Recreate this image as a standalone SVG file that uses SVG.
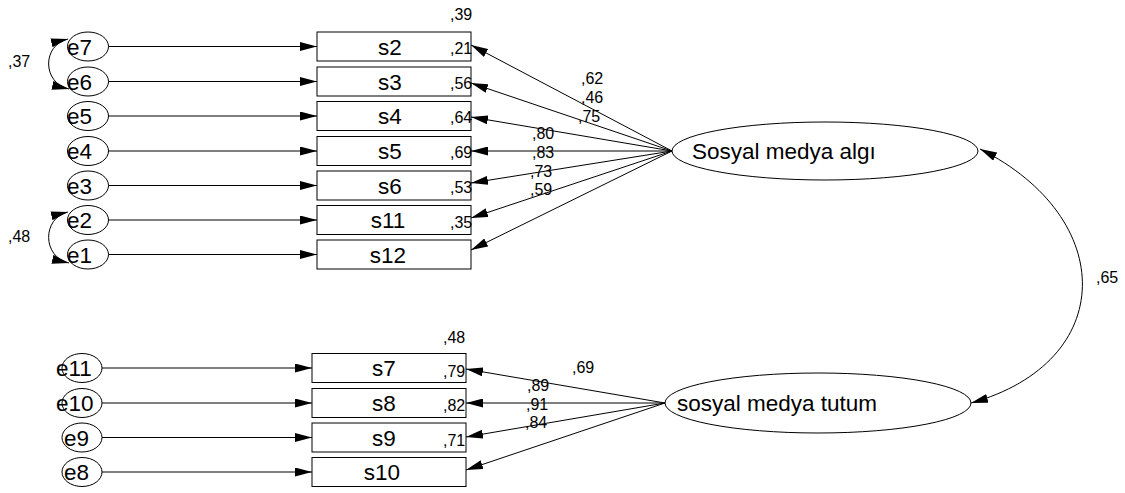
<svg xmlns="http://www.w3.org/2000/svg" width="1125" height="493" viewBox="0 0 1125 493">
  <style>
    .box { fill: #fff; stroke: #000; stroke-width: 1; }
    .ell { fill: #fff; stroke: #000; stroke-width: 1; }
    .lbl { font-family: "Liberation Sans", Arial, sans-serif; font-size: 22.5px; fill: #000; }
    .num { font-family: "Liberation Sans", Arial, sans-serif; font-size: 16px; fill: #000; }
    .edge { fill: none; stroke: #000; stroke-width: 1; marker-end: url(#arrow); }
    .cov { fill: none; stroke: #000; stroke-width: 1; marker-start: url(#arrow); marker-end: url(#arrow); }
  </style>
  <defs>
    <marker id="arrow" viewBox="0 0 17 9" refX="17" refY="4.5" markerWidth="17" markerHeight="9" markerUnits="userSpaceOnUse" orient="auto-start-reverse">
      <path d="M0,0 L17,4.5 L0,9 z" fill="#000"/>
    </marker>
  </defs>
  <rect width="1125" height="493" fill="#fff"/>

  <!-- connectors -->
  <g id="connectors">
    <!-- error terms to indicators (upper block) -->
    <line class="edge" x1="108" y1="46.5" x2="317" y2="46.5"/>
    <line class="edge" x1="108" y1="81.5" x2="317" y2="81.5"/>
    <line class="edge" x1="108" y1="116" x2="317" y2="116"/>
    <line class="edge" x1="108" y1="151" x2="317" y2="151"/>
    <line class="edge" x1="108" y1="185.5" x2="317" y2="185.5"/>
    <line class="edge" x1="108" y1="220" x2="317" y2="220"/>
    <line class="edge" x1="108" y1="254.5" x2="317" y2="254.5"/>
    <!-- error terms to indicators (lower block) -->
    <line class="edge" x1="102" y1="368" x2="312" y2="368"/>
    <line class="edge" x1="102" y1="403" x2="312" y2="403"/>
    <line class="edge" x1="102" y1="437.5" x2="312" y2="437.5"/>
    <line class="edge" x1="102" y1="472" x2="312" y2="472"/>
    <!-- loadings: Sosyal medya algı -->
    <line class="edge" x1="672" y1="151" x2="471" y2="45"/>
    <line class="edge" x1="672" y1="151" x2="471" y2="83"/>
    <line class="edge" x1="672" y1="151" x2="471" y2="117"/>
    <line class="edge" x1="672" y1="151" x2="471" y2="151"/>
    <line class="edge" x1="672" y1="151" x2="471" y2="183"/>
    <line class="edge" x1="672" y1="151" x2="471" y2="218"/>
    <line class="edge" x1="672" y1="151" x2="471" y2="250"/>
    <!-- loadings: sosyal medya tutum -->
    <line class="edge" x1="665" y1="403" x2="466" y2="369"/>
    <line class="edge" x1="665" y1="403" x2="466" y2="403"/>
    <line class="edge" x1="665" y1="403" x2="466" y2="437"/>
    <line class="edge" x1="665" y1="403" x2="466" y2="470"/>
    <!-- error covariances -->
    <path class="cov" d="M68 39 C42 45, 42 83, 69 89"/>
    <path class="cov" d="M68 212 C42 218, 42 257, 69 263"/>
    <!-- latent covariance -->
    <path class="cov" d="M980 149 C1118 218, 1118 362, 971 403"/>
  </g>

  <!-- error terms -->
  <g id="e7"><ellipse class="ell" cx="88" cy="46.5" rx="20.5" ry="14.5"/><text class="lbl" x="67" y="54.5">e7</text></g>
  <g id="e6"><ellipse class="ell" cx="88" cy="81.5" rx="20.5" ry="14.5"/><text class="lbl" x="67" y="89.5">e6</text></g>
  <g id="e5"><ellipse class="ell" cx="88" cy="116" rx="20.5" ry="14.5"/><text class="lbl" x="67" y="124">e5</text></g>
  <g id="e4"><ellipse class="ell" cx="88" cy="151" rx="20.5" ry="14.5"/><text class="lbl" x="67" y="159">e4</text></g>
  <g id="e3"><ellipse class="ell" cx="88" cy="185.5" rx="20.5" ry="14.5"/><text class="lbl" x="67" y="193.5">e3</text></g>
  <g id="e2"><ellipse class="ell" cx="88" cy="220" rx="20.5" ry="14.5"/><text class="lbl" x="67" y="228">e2</text></g>
  <g id="e1"><ellipse class="ell" cx="88" cy="254.5" rx="20.5" ry="14.5"/><text class="lbl" x="67" y="262.5">e1</text></g>

  <g id="e11"><ellipse class="ell" cx="82" cy="368" rx="20" ry="14.5"/><text class="lbl" x="56" y="376">e11</text></g>
  <g id="e10"><ellipse class="ell" cx="82" cy="403" rx="20" ry="14.5"/><text class="lbl" x="56" y="411">e10</text></g>
  <g id="e9"><ellipse class="ell" cx="82" cy="437.5" rx="20" ry="14.5"/><text class="lbl" x="64" y="445.5">e9</text></g>
  <g id="e8"><ellipse class="ell" cx="82" cy="472" rx="20" ry="14.5"/><text class="lbl" x="64" y="480">e8</text></g>

  <!-- observed indicators -->
  <g id="s2"><rect class="box" x="317" y="32" width="154" height="29"/><text class="lbl" x="390" y="54.5" text-anchor="middle">s2</text></g>
  <g id="s3"><rect class="box" x="317" y="67" width="154" height="29"/><text class="lbl" x="390" y="89.5" text-anchor="middle">s3</text></g>
  <g id="s4"><rect class="box" x="317" y="101.5" width="154" height="29"/><text class="lbl" x="390" y="124" text-anchor="middle">s4</text></g>
  <g id="s5"><rect class="box" x="317" y="136.5" width="154" height="29"/><text class="lbl" x="390" y="159" text-anchor="middle">s5</text></g>
  <g id="s6"><rect class="box" x="317" y="171" width="154" height="29"/><text class="lbl" x="390" y="193.5" text-anchor="middle">s6</text></g>
  <g id="s11"><rect class="box" x="317" y="205.5" width="154" height="29"/><text class="lbl" x="388" y="228" text-anchor="middle">s11</text></g>
  <g id="s12"><rect class="box" x="317" y="240" width="154" height="29"/><text class="lbl" x="388" y="262.5" text-anchor="middle">s12</text></g>

  <g id="s7"><rect class="box" x="312" y="353.5" width="154" height="29"/><text class="lbl" x="384" y="376" text-anchor="middle">s7</text></g>
  <g id="s8"><rect class="box" x="312" y="388.5" width="154" height="29"/><text class="lbl" x="384" y="411" text-anchor="middle">s8</text></g>
  <g id="s9"><rect class="box" x="312" y="423" width="154" height="29"/><text class="lbl" x="384" y="445.5" text-anchor="middle">s9</text></g>
  <g id="s10"><rect class="box" x="312" y="457.5" width="154" height="29"/><text class="lbl" x="382" y="480" text-anchor="middle">s10</text></g>

  <!-- latent factors -->
  <g id="sosyal-medya-algi"><ellipse class="ell" cx="825" cy="151" rx="153" ry="29"/><text class="lbl" x="692" y="159">Sosyal medya algı</text></g>
  <g id="sosyal-medya-tutum"><ellipse class="ell" cx="818" cy="403" rx="153" ry="30"/><text class="lbl" x="677" y="410.5">sosyal medya tutum</text></g>

  <!-- covariance / loading / R² values, drawn on top of the boxes -->
  <g id="values">
    <text class="num" x="8" y="67">,37</text>
    <text class="num" x="8" y="242">,48</text>
    <text class="num" x="1096" y="283">,65</text>

    <text class="num" x="450" y="20">,39</text>
    <text class="num" x="450" y="54">,21</text>
    <text class="num" x="450" y="89">,56</text>
    <text class="num" x="450" y="123">,64</text>
    <text class="num" x="450" y="158">,69</text>
    <text class="num" x="450" y="193">,53</text>
    <text class="num" x="450" y="228">,35</text>

    <text class="num" x="581" y="84">,62</text>
    <text class="num" x="581" y="103">,46</text>
    <text class="num" x="578" y="122">,75</text>
    <text class="num" x="532" y="139">,80</text>
    <text class="num" x="532" y="158">,83</text>
    <text class="num" x="530" y="177">,73</text>
    <text class="num" x="530" y="195">,59</text>

    <text class="num" x="443" y="343">,48</text>
    <text class="num" x="443" y="377">,79</text>
    <text class="num" x="443" y="411">,82</text>
    <text class="num" x="443" y="446">,71</text>
    <text class="num" x="572" y="373">,69</text>
    <text class="num" x="527" y="391">,89</text>
    <text class="num" x="526" y="410">,91</text>
    <text class="num" x="525" y="428">,84</text>
  </g>
</svg>
